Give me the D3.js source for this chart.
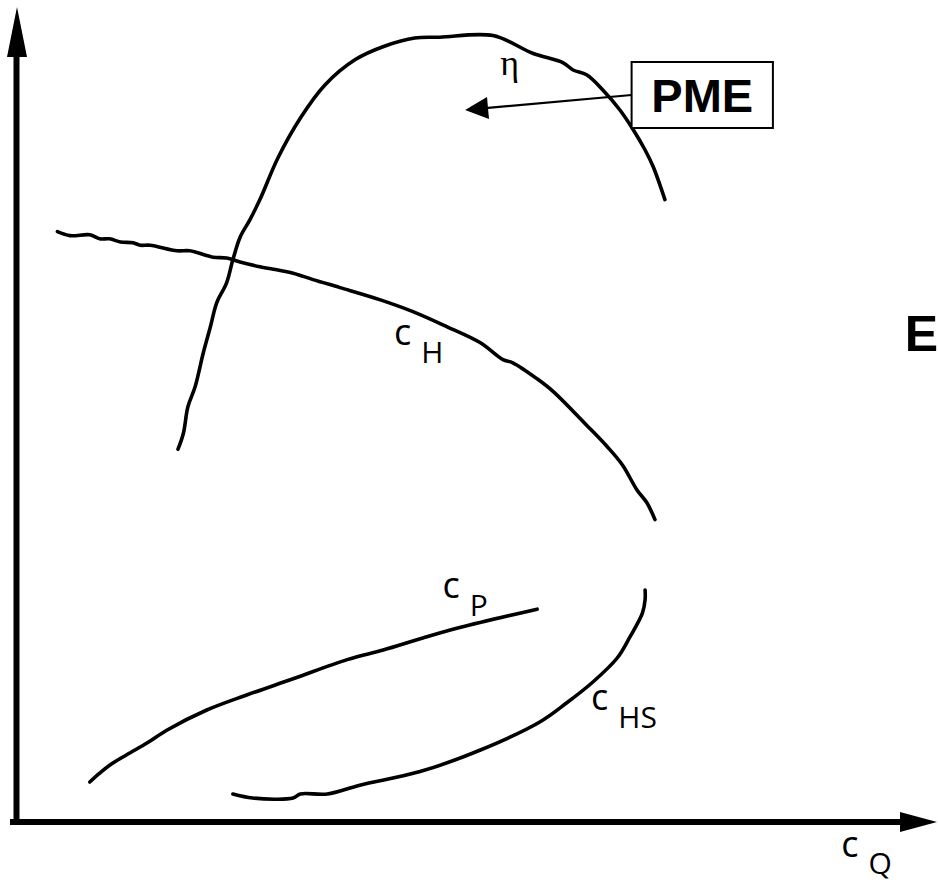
<!DOCTYPE html>
<html>
<head>
<meta charset="utf-8">
<script src="https://cdn.jsdelivr.net/npm/d3@7"></script>
<style>
  html, body { margin: 0; padding: 0; background: #fff; }
  svg { display: block; }
</style>
</head>
<body>
<div id="chart"></div>
<script>
// Pump characteristic curves against the flow coefficient c_Q (relative units 0..100)
const etaCurve = [
  [18.0, 46.6], [18.6, 48.6], [19.1, 51.9], [19.9, 54.4], [20.8, 58.6], [21.6, 61.9],
  [22.3, 64.9], [23.4, 67.4], [24.1, 70.3], [24.9, 73.1], [26.0, 75.3], [27.1, 77.8],
  [29.1, 83.0], [31.6, 88.0], [34.3, 92.1], [37.7, 95.3], [41.0, 97.0], [44.3, 98.0],
  [47.1, 98.1], [53.0, 98.3], [57.4, 96.1], [60.8, 94.9], [61.9, 94.0], [63.4, 93.4],
  [65.2, 91.5], [67.1, 89.0], [68.6, 86.5], [69.9, 84.0], [70.8, 81.9], [72.1, 77.8]
];
const headCurve = [
  [4.6, 73.8], [6.0, 73.3], [8.2, 73.4], [9.3, 72.9], [10.4, 72.9], [11.6, 72.5],
  [13.0, 72.4], [13.8, 72.1], [14.9, 72.1], [17.9, 71.4], [19.3, 71.4], [21.9, 70.6],
  [23.4, 70.5], [24.9, 70.0], [27.1, 69.4], [28.6, 69.1], [30.8, 68.6], [33.0, 67.8],
  [36.0, 66.8], [40.4, 65.3], [44.1, 63.8], [47.9, 61.9], [51.6, 59.9], [54.1, 57.8],
  [55.2, 57.4], [57.9, 55.4], [59.7, 53.8], [63.4, 49.6], [65.7, 46.9], [67.4, 44.6],
  [69.0, 41.5], [70.1, 39.9], [71.0, 37.8]
];
const powerCurve = [
  [8.2, 5.0], [9.3, 6.1], [10.4, 7.1], [12.3, 8.4], [14.6, 9.9], [16.8, 11.5],
  [21.2, 14.0], [25.7, 15.9], [30.8, 17.9], [36.8, 20.3], [40.8, 21.5], [45.2, 23.0],
  [49.3, 24.3], [57.9, 26.6]
];
const suctionCurve = [
  [24.1, 3.5], [26.3, 3.0], [30.8, 3.0], [31.6, 3.5], [34.6, 3.5], [38.2, 4.6],
  [44.9, 6.3], [51.6, 9.0], [58.2, 12.5], [61.2, 14.9], [64.1, 17.5], [66.8, 20.5],
  [68.2, 23.1], [69.6, 26.1], [69.9, 27.8], [69.9, 29.0]
];

// Curve labels: main letter, subscript, anchor in chart units, subscript drop
const curveLabels = [
  { main: "c", sub: "H",  x: 42.0, y: 59.6, drop: 18 },
  { main: "c", sub: "P",  x: 47.4, y: 28.0, drop: 18 },
  { main: "c", sub: "HS", x: 63.9, y: 14.0, drop: 18 },
  { main: "c", sub: "Q",  x: 91.7, y: -4.4, drop: 17 }
];
const etaLabel = { text: "η", x: 53.8, y: 93.4 };
const pmeLabel = { text: "PME", x0: 68.4, x1: 84.1, y0: 95.0, y1: 86.75, tipX: 49.9, tipY: 89.0 };
const sideLabel = { text: "E", x: 100.6, y: 58.9 };

const W = 938, H = 883;
const x = d3.scaleLinear().domain([0, 100]).range([16, 916]);
const y = d3.scaleLinear().domain([0, 100]).range([822, 22]);

const svg = d3.select("#chart").append("svg")
  .attr("width", W).attr("height", H);

// Axes with solid arrowheads
const axisW = 6;
svg.append("line")
  .attr("x1", x(0) + 0.5).attr("y1", y(0) + 3)
  .attr("x2", x(0) + 0.5).attr("y2", 50)
  .attr("stroke", "#000").attr("stroke-width", axisW);
svg.append("path")
  .attr("d", `M${x(0) + 1},7 L${x(0) - 9},57 L${x(0) + 11},57 Z`)
  .attr("fill", "#000");
svg.append("line")
  .attr("x1", 10).attr("y1", y(0))
  .attr("x2", 905).attr("y2", y(0))
  .attr("stroke", "#000").attr("stroke-width", axisW);
svg.append("path")
  .attr("d", `M937,${y(0)} L900,${y(0) - 10} L900,${y(0) + 10} Z`)
  .attr("fill", "#000");

// Characteristic curves
const line = d3.line().x(d => x(d[0])).y(d => y(d[1])).curve(d3.curveCatmullRom.alpha(0.5));
[etaCurve, headCurve, powerCurve, suctionCurve].forEach(c => {
  svg.append("path")
    .attr("d", line(c))
    .attr("fill", "none")
    .attr("stroke", "#000")
    .attr("stroke-width", 3.6)
    .attr("stroke-linejoin", "round")
    .attr("stroke-linecap", "round");
});

// Subscripted labels
curveLabels.forEach(l => {
  const t = svg.append("text")
    .attr("x", x(l.x)).attr("y", y(l.y))
    .attr("font-family", "'Open Sans', 'Noto Sans', sans-serif")
    .attr("fill", "#000");
  t.append("tspan").attr("font-size", 36).text(l.main);
  t.append("tspan").attr("font-size", 30).attr("dx", 10).attr("dy", l.drop).text(l.sub);
});

// Efficiency label
svg.append("text")
  .attr("x", x(etaLabel.x)).attr("y", y(etaLabel.y))
  .attr("font-family", "'Liberation Serif', 'DejaVu Serif', serif")
  .attr("font-size", 36)
  .attr("fill", "#000")
  .text(etaLabel.text);

// Best-efficiency-point callout
svg.append("rect")
  .attr("x", x(pmeLabel.x0)).attr("y", y(pmeLabel.y0))
  .attr("width", x(pmeLabel.x1) - x(pmeLabel.x0))
  .attr("height", y(pmeLabel.y1) - y(pmeLabel.y0))
  .attr("fill", "#fff").attr("stroke", "#000").attr("stroke-width", 2);
svg.append("text")
  .attr("x", (x(pmeLabel.x0) + x(pmeLabel.x1)) / 2)
  .attr("y", y((pmeLabel.y0 + pmeLabel.y1) / 2) + 17)
  .attr("text-anchor", "middle")
  .attr("font-family", "'Liberation Sans', Arial, sans-serif")
  .attr("font-weight", "bold")
  .attr("font-size", 47)
  .attr("fill", "#000")
  .text(pmeLabel.text);

const ax0 = x(pmeLabel.x0), ay0 = y((pmeLabel.y0 + pmeLabel.y1) / 2);
const tx = x(pmeLabel.tipX), ty = y(pmeLabel.tipY);
const ang = Math.atan2(ty - ay0, tx - ax0);
const headLen = 23, headHalf = 11;
const bx = tx - headLen * Math.cos(ang), by = ty - headLen * Math.sin(ang);
svg.append("line")
  .attr("x1", ax0).attr("y1", ay0).attr("x2", bx).attr("y2", by)
  .attr("stroke", "#000").attr("stroke-width", 2.2);
svg.append("path")
  .attr("d", `M${tx},${ty} L${bx - headHalf * Math.sin(ang)},${by + headHalf * Math.cos(ang)} L${bx + headHalf * Math.sin(ang)},${by - headHalf * Math.cos(ang)} Z`)
  .attr("fill", "#000");

// Side letter
svg.append("text")
  .attr("x", x(sideLabel.x)).attr("y", y(sideLabel.y))
  .attr("text-anchor", "middle")
  .attr("font-family", "'Liberation Sans', Arial, sans-serif")
  .attr("font-weight", "bold")
  .attr("font-size", 50)
  .attr("fill", "#000")
  .text(sideLabel.text);
</script>
</body>
</html>
